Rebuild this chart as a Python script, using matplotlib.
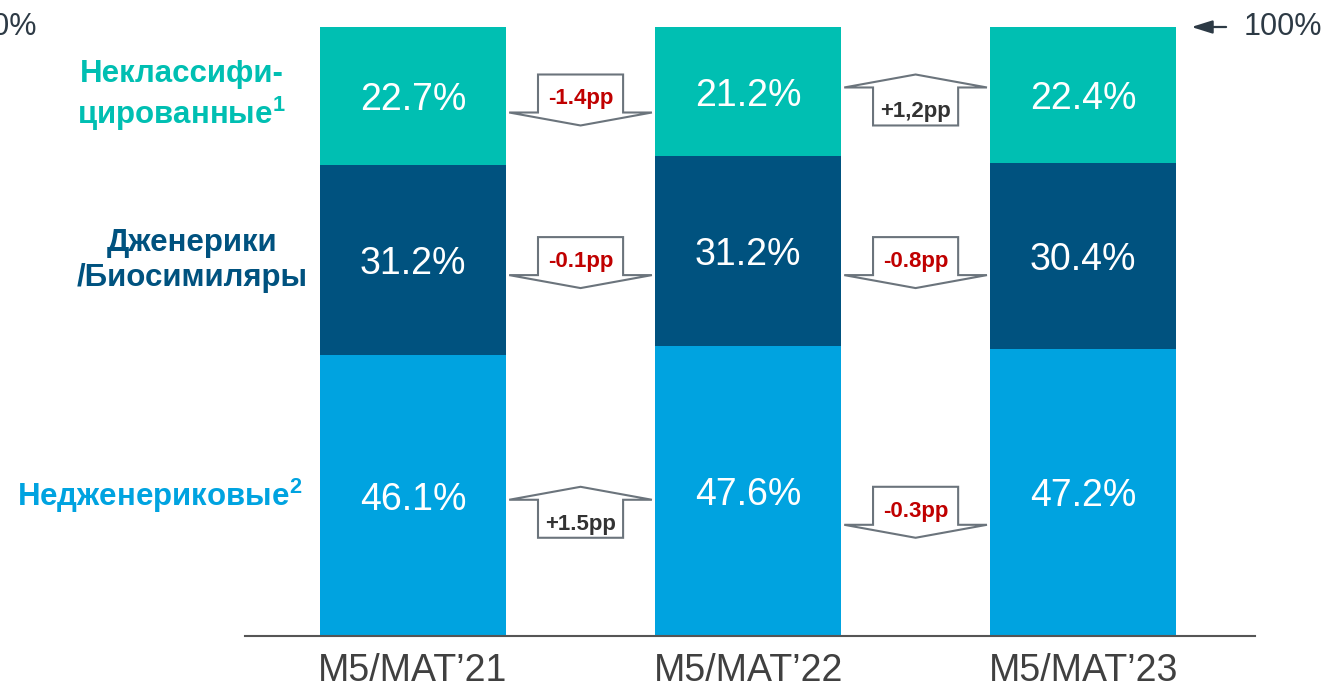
import matplotlib
matplotlib.use("Agg")
import matplotlib.pyplot as plt
from matplotlib.patches import Polygon

plt.rcParams['font.family'] = ['Liberation Sans', 'DejaVu Sans']
plt.rcParams['mathtext.fontset'] = 'custom'
plt.rcParams['mathtext.rm'] = 'Liberation Sans'
plt.rcParams['mathtext.bf'] = 'Liberation Sans:bold'

# данные
categories = ["M5/MAT’21", "M5/MAT’22", "M5/MAT’23"]
non_generic = [46.1, 47.6, 47.2]
generic = [31.2, 31.2, 30.4]
unclassified = [22.7, 21.2, 22.4]

seg_names = ["Недженериковые$^{\\mathbf{2}}$", "Дженерики\n/Биосимиляры",
             "Неклассифи-\nцированные$^{\\mathbf{1}}$"]
seg_colors = ["#00A3E0", "#00527F", "#00BFB2"]

# изменения между годами (по сегментам снизу вверх)
changes = [["+1.5pp", "-0.3pp"],
           ["-0.1pp", "-0.8pp"],
           ["-1.4pp", "+1,2pp"]]
arrow_top = [24.5, 65.5, 92.2]

W, H = 1327, 687
fig = plt.figure(figsize=(W / 100, H / 100), dpi=100)
ax = fig.add_axes([245 / W, (H - 636) / H, 1010 / W, 609 / H])
ax.set_xlim(-0.5015, 2.513)
ax.set_ylim(0, 100)

x = range(len(categories))
bw = 0.555
series = [non_generic, generic, unclassified]
bottom = [0, 0, 0]
for vals, col in zip(series, seg_colors):
    ax.bar(x, vals, bw, bottom=bottom, color=col, linewidth=0)
    for i, v in enumerate(vals):
        ax.text(i, bottom[i] + v / 2, f"{v:.1f}%", ha='center',
                va='center_baseline', color='white', fontsize=27)
    bottom = [b + v for b, v in zip(bottom, vals)]

# подписи сегментов слева
label_y = [non_generic[0] / 2, non_generic[0] + generic[0] / 2,
           non_generic[0] + generic[0] + unclassified[0] / 2]
label_x = [-0.757, -0.659, -0.69]
label_colors = ["#00A3E0", "#00527F", "#00BFB2"]
for name, lx, ly, c in zip(seg_names, label_x, label_y, label_colors):
    ax.text(lx, ly, name, ha='center', va='center', color=c, fontsize=22.5,
            fontweight='bold', linespacing=1.2)

# стрелки изменений
hw, rw = 0.213, 0.127          # полуширина наконечника и прямоугольника
rh, th = 6.24, 2.13            # высота прямоугольника и наконечника
for row, labels in enumerate(changes):
    top = arrow_top[row]
    for j, lab in enumerate(labels):
        cx = j + 0.5
        if lab.startswith('-'):
            pts = [(cx - rw, top), (cx + rw, top), (cx + rw, top - rh),
                   (cx + hw, top - rh), (cx, top - rh - th),
                   (cx - hw, top - rh), (cx - rw, top - rh)]
            rect_top = top
            tc = "#C00000"
        else:
            pts = [(cx, top), (cx + hw, top - th), (cx + rw, top - th),
                   (cx + rw, top - th - rh), (cx - rw, top - th - rh),
                   (cx - rw, top - th), (cx - hw, top - th)]
            rect_top = top - th
            tc = "#333333"
        ax.add_patch(Polygon(pts, closed=True, facecolor='white',
                             edgecolor='#6B747C', linewidth=1.5, zorder=3))
        ax.text(cx, rect_top - 4.9, lab, ha='center', va='baseline',
                color=tc, fontsize=16, fontweight='bold', zorder=4)

# 100% отметки
ax.annotate("", xy=(2.315, 100), xytext=(2.435, 100),
            arrowprops=dict(arrowstyle='-|>,head_length=0.7,head_width=0.22',
                            color='#2D3A45', lw=1.6, mutation_scale=18),
            annotation_clip=False)
ax.text(2.478, 100, "100%", ha='left', va='center', color='#2D3A45', fontsize=22)
ax.text(-1.122, 100, "100%", ha='right', va='center', color='#2D3A45', fontsize=22)

ax.set_xticks(list(x))
ax.set_xticklabels(categories, fontsize=27, color='#404040')
ax.tick_params(axis='x', length=0, pad=12)
ax.set_yticks([])
for s in ['top', 'right', 'left']:
    ax.spines[s].set_visible(False)
ax.spines['bottom'].set_color('#555555')
ax.spines['bottom'].set_linewidth(1.5)

fig.savefig("out.png", dpi=100)
